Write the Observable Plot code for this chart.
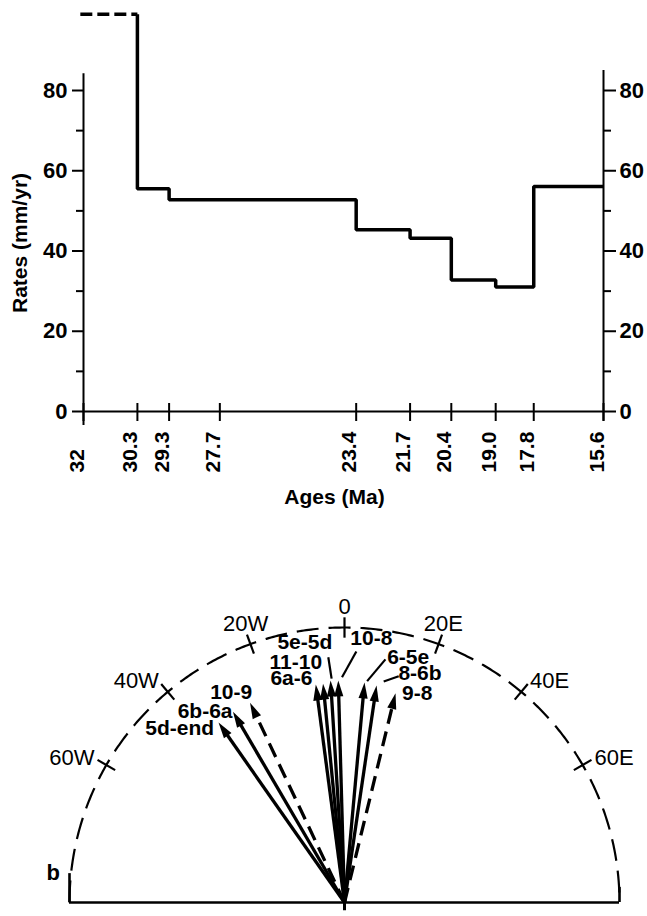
<!DOCTYPE html>
<html><head><meta charset="utf-8">
<script src="https://cdn.jsdelivr.net/npm/d3@7"></script>
<script src="https://cdn.jsdelivr.net/npm/@observablehq/plot@0.6"></script>
<style>
body{margin:0;background:#fff;}
#chart{width:647px;}
#chart svg{display:block;overflow:visible;}
</style></head><body><div id="chart"></div>
<script>
// ---------- Panel a: spreading rates ----------
const ageTicks = [32, 30.3, 29.3, 27.7, 23.4, 21.7, 20.4, 19.0, 17.8, 15.6];
const ageTickLabels = ["32", "30.3", "29.3", "27.7", "23.4", "21.7", "20.4", "19.0", "17.8", "15.6"];
const stepAges = [30.3, 30.3, 29.3, 23.4, 21.7, 20.4, 19.0, 17.8, 15.6];
const stepRates = [99, 55.5, 52.8, 45.3, 43.2, 32.8, 31.0, 56.1, 56.1];
const dashedAges = [32.1, 30.3];
const dashedRates = [99, 99];
const rateTicks = [0, 20, 40, 60, 80];
const rateMinorTicks = [10, 30, 50, 70];

// ---------- Panel b: spreading directions ----------
const vectorLabels = ["5d-end", "6b-6a", "10-9", "6a-6", "11-10", "5e-5d", "10-8", "6-5e", "8-6b", "9-8"];
const azimuths = [-35, -30.3, -25.3, -7.5, -5.6, -3.6, -1.6, 5.2, 8.4, 13.7];
const lengths = [0.795, 0.80, 0.80, 0.796, 0.796, 0.805, 0.804, 0.80, 0.794, 0.78];
const uncertain = [false, false, true, false, false, false, false, false, false, true];
const compassAngles = [-60, -40, -20, 0, 20, 40, 60];
const compassLabels = ["60W", "40W", "20W", "0", "20E", "40E", "60E"];

// label layout (pixel offsets from arrow tip)
const labelLayout = {
  "5d-end": {anchor: "end", off: [-5, 5]},
  "6b-6a": {anchor: "end", off: [-1, -1.7]},
  "10-9": {anchor: "end", off: [1.7, -11.6]},
  "6a-6": {anchor: "end", off: [-3.5, -7]},
  "11-10": {anchor: "end", off: [-1, -22]},
  "5e-5d": {anchor: "end", off: [1.7, -39]},
  "10-8": {anchor: "start", off: [12, -43]},
  "6-5e": {anchor: "start", off: [22.7, -26]},
  "8-6b": {anchor: "start", off: [22, -13]},
  "9-8": {anchor: "start", off: [6.7, -1.3]}
};
const leaderLayout = {
  "5e-5d": [[-2.3, -24.3], [1, -3]],
  "10-8": [[18, -30], [3.7, -4.3]],
  "6-5e": [[21, -24], [2.7, -2.3]],
  "8-6b": [[22.3, -10.3], [7.3, -5]]
};

const FONT = "'Liberation Sans', Arial, Helvetica, sans-serif";
const chart = document.getElementById("chart");

// ---- top plot ----
const step = stepAges.map((a, i) => ({age: a, rate: stepRates[i]}));
const dashed = dashedAges.map((a, i) => ({age: a, rate: dashedRates[i]}));
const ageData = ageTicks.map((a, i) => ({age: a, label: ageTickLabels[i]}));

const ratePlot = Plot.plot({
  width: 647, height: 520,
  marginLeft: 83, marginRight: 44, marginTop: 9.75, marginBottom: 109,
  style: {fontFamily: FONT, fontSize: "21px", color: "black", background: "white", overflow: "visible"},
  x: {domain: [32, 15.6], axis: null},
  y: {domain: [0, 100], axis: null},
  marks: [
    Plot.ruleY([0], {strokeWidth: 2}),
    Plot.ruleX([32], {y1: -3.5, y2: 84.2, strokeWidth: 2}),
    Plot.ruleX([15.6], {y1: -2.4, y2: 85, strokeWidth: 2}),
    Plot.axisY(rateTicks, {anchor: "left", tickSize: 11, tickPadding: 5, strokeWidth: 2, fontSize: 22, fontWeight: "bold", label: null}),
    Plot.axisY(rateMinorTicks, {anchor: "left", tickSize: 7, strokeWidth: 2, text: null, label: null}),
    Plot.axisY(rateTicks, {anchor: "right", tickSize: 12, tickPadding: 4, strokeWidth: 2, fontSize: 22, fontWeight: "bold", label: null}),
    Plot.axisY(rateMinorTicks, {anchor: "right", tickSize: 7, strokeWidth: 2, text: null, label: null}),
    Plot.ruleX(ageData, {x: "age", y1: -2.5, y2: 2, strokeWidth: 2}),
    Plot.text(ageData, {x: "age", text: "label", frameAnchor: "bottom", dy: 61, rotate: -90, textAnchor: "start", fontSize: 21, fontWeight: "bold"}),
    Plot.text(["Ages (Ma)"], {frameAnchor: "bottom", dy: 92, dx: -9, fontSize: 21, fontWeight: "bold"}),
    Plot.text(["Rates (mm/yr)"], {x: 32, y: 42, dx: -63, rotate: -90, fontSize: 21, fontWeight: "bold"}),
    Plot.line(dashed, {x: "age", y: "rate", strokeWidth: 3.6, strokeDasharray: "12,5", strokeLinecap: "butt"}),
    Plot.line(step, {x: "age", y: "rate", curve: "step-after", strokeWidth: 3.5, strokeLinejoin: "miter", strokeLinecap: "butt"})
  ]
});
chart.appendChild(ratePlot);

// ---- bottom plot ----
const PX = 275;
const rad = a => a * Math.PI / 180;
const vectors = vectorLabels.map((label, i) => {
  const az = azimuths[i], len = lengths[i];
  return {label, az, len, uncertain: uncertain[i],
    tx: len * Math.sin(rad(az)), ty: len * Math.cos(rad(az))};
});
const shaft = d => ({x: (d.len - 0.035) * Math.sin(rad(d.az)), y: (d.len - 0.035) * Math.cos(rad(d.az))});
const labels = vectors.map(d => {
  const L = labelLayout[d.label];
  return {label: d.label, anchor: L.anchor, x: d.tx + L.off[0] / PX, y: d.ty - L.off[1] / PX};
});
const leaders = vectors.filter(d => leaderLayout[d.label]).map(d => {
  const [[a, b], [c, e]] = leaderLayout[d.label];
  return {x1: d.tx + a / PX, y1: d.ty - b / PX, x2: d.tx + c / PX, y2: d.ty - e / PX};
});
const arc = d3.range(-90, 90.01, 0.5).map(a => ({x: Math.sin(rad(a)), y: Math.cos(rad(a))}));
const compass = compassAngles.map((a, i) => ({a, label: compassLabels[i]}));

const headSymbol = {
  draw(context) {
    context.moveTo(0, -1);
    context.lineTo(4.6, 15);
    context.lineTo(-4.6, 15);
    context.closePath();
  }
};

const cx = d => 1.05 * Math.sin(rad(d.a)), cy = d => 1.05 * Math.cos(rad(d.a));

const directionPlot = Plot.plot({
  width: 647, height: 396,
  marginLeft: 69, marginRight: 28, marginTop: 107, marginBottom: 14,
  style: {fontFamily: FONT, fontSize: "22px", color: "black", background: "white", overflow: "visible"},
  x: {domain: [-1, 1], axis: null},
  y: {domain: [0, 1], axis: null},
  marks: [
    Plot.line(arc, {x: "x", y: "y", strokeWidth: 2.2, strokeDasharray: "22,10", strokeLinecap: "butt"}),
    Plot.ruleY([0], {x1: -1, x2: 1, strokeWidth: 2.6}),
    Plot.ruleX([-1], {y1: 0, y2: 0.105, strokeWidth: 2.6}),
    Plot.ruleX([1], {y1: 0, y2: 0.055, strokeWidth: 2.6}),
    Plot.ruleX([0], {y1: -0.03, y2: 0, strokeWidth: 3}),
    Plot.link(compass, {
      x1: d => 0.963 * Math.sin(rad(d.a)), y1: d => 0.963 * Math.cos(rad(d.a)),
      x2: d => 1.037 * Math.sin(rad(d.a)), y2: d => 1.037 * Math.cos(rad(d.a)), strokeWidth: 2.2
    }),
    Plot.text(compass.filter(d => d.a <= -40), {x: cx, y: cy, text: "label", textAnchor: "end", fontSize: 22}),
    Plot.text(compass.filter(d => d.a >= 40), {x: cx, y: cy, text: "label", textAnchor: "start", fontSize: 22}),
    Plot.text(compass.filter(d => Math.abs(d.a) < 40), {x: cx, y: cy, text: "label", lineAnchor: "bottom", fontSize: 22}),
    Plot.link(vectors.filter(d => !d.uncertain), {x1: 0, y1: 0, x2: d => shaft(d).x, y2: d => shaft(d).y, strokeWidth: 3.3}),
    Plot.link(vectors.filter(d => d.uncertain), {x1: 0, y1: 0, x2: d => shaft(d).x, y2: d => shaft(d).y, strokeWidth: 3.3, strokeDasharray: "15,8", strokeLinecap: "butt"}),
    Plot.dot(vectors, {x: "tx", y: "ty", symbol: headSymbol, rotate: "az", r: 5, fill: "black", stroke: "none"}),
    Plot.link(leaders, {x1: "x1", y1: "y1", x2: "x2", y2: "y2", strokeWidth: 2.2}),
    Plot.text(labels.filter(d => d.anchor === "end"), {x: "x", y: "y", text: "label", textAnchor: "end", fontSize: 21, fontWeight: "bold"}),
    Plot.text(labels.filter(d => d.anchor === "start"), {x: "x", y: "y", text: "label", textAnchor: "start", fontSize: 21, fontWeight: "bold"}),
    Plot.text(["b"], {frameAnchor: "bottom-left", dx: -23, dy: -23, fontSize: 22, fontWeight: "bold"})
  ]
});
chart.appendChild(directionPlot);
</script></body></html>
